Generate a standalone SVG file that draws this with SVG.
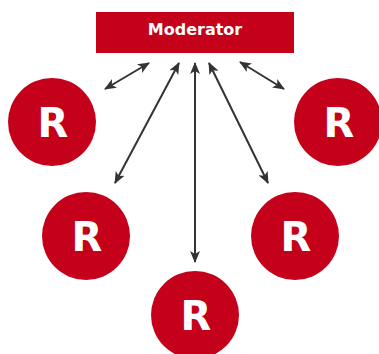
<svg xmlns="http://www.w3.org/2000/svg" width="379" height="354" viewBox="0 0 379 354">
  <style>
    .node { fill: #c4001a; }
    .label { fill: #ffffff; font-family: "DejaVu Sans", Verdana, sans-serif; font-weight: bold; text-anchor: middle; }
    .r { font-size: 40px; }
    .title { font-size: 16px; }
    .link { stroke: #333333; stroke-width: 2; fill: none; marker-start: url(#head); marker-end: url(#head); }
  </style>
  <defs>
    <marker id="head" viewBox="0 0 12 10" refX="11" refY="5" markerWidth="12" markerHeight="10" markerUnits="userSpaceOnUse" orient="auto-start-reverse">
      <path d="M0,0 L12,5 L0,10 L3,5 z" fill="#333333"/>
    </marker>
  </defs>
  <rect width="379" height="354" fill="#ffffff"/>

  <g id="moderator">
    <rect class="node" x="96" y="12" width="198" height="41"/>
    <text class="label title" x="195" y="35">Moderator</text>
  </g>

  <g id="r-top-left">
    <circle class="node" cx="52" cy="122" r="44"/>
    <text class="label r" x="53" y="137">R</text>
  </g>
  <g id="r-top-right">
    <circle class="node" cx="338" cy="122" r="44"/>
    <text class="label r" x="339" y="137">R</text>
  </g>
  <g id="r-mid-left">
    <circle class="node" cx="86" cy="236" r="44"/>
    <text class="label r" x="87" y="251">R</text>
  </g>
  <g id="r-mid-right">
    <circle class="node" cx="295" cy="236" r="44"/>
    <text class="label r" x="296" y="251">R</text>
  </g>
  <g id="r-bottom">
    <circle class="node" cx="195" cy="315" r="44"/>
    <text class="label r" x="196" y="330">R</text>
  </g>

  <g id="connectors">
    <line class="link" x1="105" y1="89" x2="149" y2="63"/>
    <line class="link" x1="115" y1="183" x2="179" y2="63"/>
    <line class="link" x1="195" y1="262" x2="195" y2="63"/>
    <line class="link" x1="268" y1="183" x2="209" y2="63"/>
    <line class="link" x1="284" y1="89" x2="240" y2="62"/>
  </g>
</svg>
